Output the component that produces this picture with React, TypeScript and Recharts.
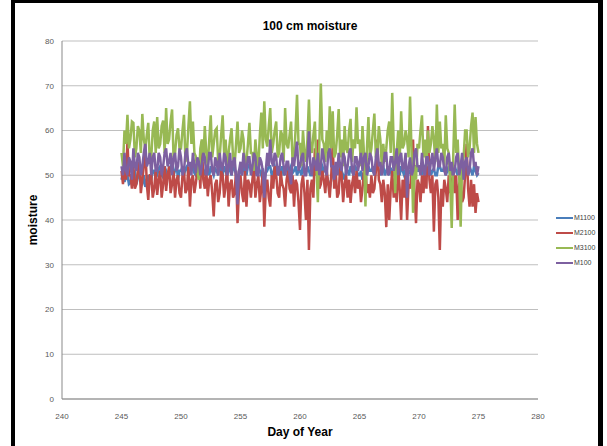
import React from "react";
import { LineChart, Line, XAxis, YAxis, CartesianGrid, Label } from "recharts";

// sampled every 3 hours, day of year 245 to 275
const days = [
  245, 245.125, 245.25, 245.375, 245.5, 245.625, 245.75, 245.875,
  246, 246.125, 246.25, 246.375, 246.5, 246.625, 246.75, 246.875,
  247, 247.125, 247.25, 247.375, 247.5, 247.625, 247.75, 247.875,
  248, 248.125, 248.25, 248.375, 248.5, 248.625, 248.75, 248.875,
  249, 249.125, 249.25, 249.375, 249.5, 249.625, 249.75, 249.875,
  250, 250.125, 250.25, 250.375, 250.5, 250.625, 250.75, 250.875,
  251, 251.125, 251.25, 251.375, 251.5, 251.625, 251.75, 251.875,
  252, 252.125, 252.25, 252.375, 252.5, 252.625, 252.75, 252.875,
  253, 253.125, 253.25, 253.375, 253.5, 253.625, 253.75, 253.875,
  254, 254.125, 254.25, 254.375, 254.5, 254.625, 254.75, 254.875,
  255, 255.125, 255.25, 255.375, 255.5, 255.625, 255.75, 255.875,
  256, 256.125, 256.25, 256.375, 256.5, 256.625, 256.75, 256.875,
  257, 257.125, 257.25, 257.375, 257.5, 257.625, 257.75, 257.875,
  258, 258.125, 258.25, 258.375, 258.5, 258.625, 258.75, 258.875,
  259, 259.125, 259.25, 259.375, 259.5, 259.625, 259.75, 259.875,
  260, 260.125, 260.25, 260.375, 260.5, 260.625, 260.75, 260.875,
  261, 261.125, 261.25, 261.375, 261.5, 261.625, 261.75, 261.875,
  262, 262.125, 262.25, 262.375, 262.5, 262.625, 262.75, 262.875,
  263, 263.125, 263.25, 263.375, 263.5, 263.625, 263.75, 263.875,
  264, 264.125, 264.25, 264.375, 264.5, 264.625, 264.75, 264.875,
  265, 265.125, 265.25, 265.375, 265.5, 265.625, 265.75, 265.875,
  266, 266.125, 266.25, 266.375, 266.5, 266.625, 266.75, 266.875,
  267, 267.125, 267.25, 267.375, 267.5, 267.625, 267.75, 267.875,
  268, 268.125, 268.25, 268.375, 268.5, 268.625, 268.75, 268.875,
  269, 269.125, 269.25, 269.375, 269.5, 269.625, 269.75, 269.875,
  270, 270.125, 270.25, 270.375, 270.5, 270.625, 270.75, 270.875,
  271, 271.125, 271.25, 271.375, 271.5, 271.625, 271.75, 271.875,
  272, 272.125, 272.25, 272.375, 272.5, 272.625, 272.75, 272.875,
  273, 273.125, 273.25, 273.375, 273.5, 273.625, 273.75, 273.875,
  274, 274.125, 274.25, 274.375, 274.5, 274.625, 274.75, 274.875,
  275,
];

const m1100 = [
  49, 50.5, 48.5, 49.5, 50, 48, 48.3, 50,
  49, 51, 48, 49.5, 50.5, 48.5, 48.2, 50,
  47.4, 49, 50, 48, 49, 51, 51, 49.5,
  50, 51.5, 52, 50, 49.5, 52, 51, 50,
  50, 52, 52.5, 50, 51, 52.5, 49, 51,
  51, 52, 50, 51.5, 52, 50, 50.5, 52,
  52, 50.5, 50, 51.5, 51, 50, 52.5, 51,
  50, 52, 51.5, 50, 52, 51, 50, 51.5,
  51, 50, 52.5, 51, 50, 52, 51, 50,
  52, 51, 50, 52, 51.5, 50, 49, 51,
  51, 50, 52, 51, 50, 52, 52.5, 51,
  50, 52, 51, 50, 52, 51, 50, 51.5,
  49, 50.5, 51, 52, 52, 50, 50.5, 52,
  51, 52, 50, 51, 52, 50, 51, 52,
  50, 51, 52, 50.5, 51, 52, 50, 51,
  51, 50, 52.5, 51, 50, 52, 51, 50,
  50, 52, 51, 50, 52, 51, 50.5, 52,
  51, 52, 50, 48.5, 47, 49, 51, 50,
  52, 51, 50.5, 52, 51, 50, 49, 51,
  51, 50, 52, 51, 50, 52, 51.5, 50,
  50, 51, 49, 50.5, 51, 50, 52, 51,
  51, 52, 50, 51, 52.5, 51, 50, 52,
  52, 50, 51, 52, 50, 51.5, 51, 50,
  50, 52, 51.5, 50, 52, 51, 50, 51.5,
  49, 50.5, 51, 50, 50, 52, 52, 51,
  51, 52, 50, 51.5, 52, 50, 51, 52,
  50, 51, 51.5, 50, 50, 52, 52, 51,
  51, 52, 50, 51, 52, 50, 50.5, 52,
  52, 51, 50, 52, 51, 50, 49.5, 51,
  51, 50, 52, 51, 50, 52, 51, 50,
  50.5,
];

const m2100 = [
  51, 48, 53, 49, 57.5, 50, 50, 47,
  52, 47, 48, 51, 53, 46, 49, 52,
  57, 48, 44.5, 50, 50, 45, 47, 51,
  45.6, 49, 51, 45, 48, 52, 46.5, 50,
  52, 46, 48, 51, 45, 49, 50, 46,
  45, 50, 51, 46, 47, 52, 43, 49,
  50, 46, 48.3, 51, 53, 47, 57.6, 49,
  47, 51, 45.3, 49, 50, 46, 40.8, 48,
  49, 44, 46, 51, 50, 45, 47.5, 52,
  43, 48, 49, 45, 46, 51, 39.3, 47,
  50, 46, 44, 51, 43, 49, 48, 45,
  49, 52, 45, 48, 50, 44, 47, 51,
  38.5, 47, 49, 45, 43, 50, 47, 52,
  50, 46, 45, 51, 48, 47, 43, 49,
  51, 47, 46, 50, 43, 49, 48, 44,
  37.8, 48, 50, 46, 40, 49, 33.3, 47,
  49, 45, 56, 50, 58, 47, 48, 51,
  49, 46, 51, 48, 45, 50, 57, 47,
  51, 45, 46, 52, 50, 44, 48, 50,
  45, 49, 43.8, 48, 50, 46, 51, 47,
  49, 44, 47, 51, 52, 46, 48, 45,
  50, 46, 47, 51, 58, 49, 48, 44,
  49, 46, 38.4, 48, 40, 47, 51, 45,
  48, 44, 52, 47, 40, 49, 45, 50,
  40, 48, 47, 51, 58, 46, 39.3, 49,
  48, 44, 50, 46, 52, 47, 61, 49,
  46, 50, 37.4, 48, 49, 45, 33.3, 47,
  43, 49, 47, 44, 50, 46, 48, 51,
  46, 50, 40, 48, 49, 44, 45, 50,
  57, 47, 43, 49, 43, 48, 41.6, 46,
  44,
];

const m3100 = [
  55, 52, 60, 57, 63.5, 56, 58, 62,
  61.7, 54, 56, 61, 60, 55, 63.7, 58,
  56, 59, 61.7, 53, 54, 60, 62, 55,
  63, 56, 57, 61, 62.2, 55, 65, 57,
  58, 62, 64.7, 54, 55, 59, 60.5, 56,
  56, 60, 63.5, 53, 55, 61, 66.5, 57,
  62, 55, 54.2, 51, 49, 56, 58, 53,
  61, 55, 52, 58, 63.4, 54, 57, 60,
  60.5, 53, 54, 59, 63.4, 55, 58, 52,
  55, 58, 60.5, 54, 52, 57, 62, 55,
  56, 60, 58, 52, 53, 57, 61.7, 55,
  55, 51, 58, 54, 52, 59, 64, 56,
  66.5, 58, 56.4, 61, 65, 55, 57, 60,
  62, 54, 55, 60, 59, 53, 65, 57,
  56, 59, 62, 53, 54, 60, 68, 57,
  57, 52, 60, 55, 53, 58, 66.9, 56,
  55, 59, 62, 52, 44, 57, 70.5, 58,
  57, 53, 60, 55, 65.4, 56, 64.3, 54,
  55, 59, 64.8, 54, 58, 52, 61, 56,
  55, 60, 62.6, 53, 58, 56, 65.2, 57,
  58, 52, 61, 55, 43, 56, 63, 54,
  56, 60, 63.8, 54, 55, 61, 58, 52,
  57, 53, 56, 60, 62, 55, 68.4, 57,
  46, 55, 60, 53, 64.3, 56, 57, 60,
  58, 54, 67.6, 55, 41.6, 52, 49, 57,
  56, 60, 63.4, 54, 58, 52, 60, 55,
  57, 61, 58, 53, 65.8, 55, 62, 56,
  57, 52, 63.4, 56, 55, 48, 38.2, 54,
  65.8, 55, 58, 50, 38.5, 53, 54, 60,
  60, 54, 56, 61, 64, 55, 63, 57,
  55,
];

const m100 = [
  52, 50, 55, 51, 50, 54, 53, 49,
  56, 52, 51, 55, 54, 50, 52, 55,
  57, 52, 53, 55, 50, 54, 55, 51,
  51, 55, 54, 50, 52, 55, 56, 52,
  53, 55, 50, 54, 55, 51, 52, 56,
  54, 50, 51, 55, 56, 52, 53, 50,
  55, 52, 50.5, 54, 53, 50, 52, 55,
  54, 50, 51, 55, 55, 51, 50, 54,
  53, 50, 55, 52, 51, 55, 54, 50,
  52, 55, 50, 53, 54, 50, 43.5, 51,
  53, 50, 55, 52, 51, 54, 54, 50,
  52, 55, 54, 50, 50, 54, 53, 51,
  45, 51, 55, 52, 58, 53, 52, 55,
  54, 50, 51, 54, 55, 52, 50, 53,
  53, 50, 48, 54, 52, 55, 57.5, 51,
  52, 54, 55, 50, 50, 54, 59.8, 52,
  50, 54, 53, 51, 55, 50, 52, 56,
  54, 51, 50, 55, 56, 52, 52, 49,
  53, 50, 55, 52, 51, 55, 54, 50,
  52, 55, 56, 51, 50, 54, 54, 51,
  53, 55, 51, 54, 55, 50, 52, 55,
  54, 51, 50, 54, 56, 52, 53, 50,
  52, 55, 55, 50, 51, 54, 54, 51,
  53, 56, 50, 54, 55, 51, 52, 55,
  45, 52, 54, 50, 51, 55, 56, 52,
  52, 50, 55, 51, 50, 54, 54, 50,
  53, 55, 51, 54, 56, 52, 52, 55,
  54, 51, 50, 54, 55, 51, 53, 50,
  51, 54, 55, 50, 52, 55, 49, 53,
  54, 50, 51, 55, 56, 52, 53, 50,
  52,
];

const xTicks = [240, 245, 250, 255, 260, 265, 270, 275, 280];
const yTicks = [0, 10, 20, 30, 40, 50, 60, 70, 80];

const SERIES = [
  { key: "m1100", name: "M1100", color: "#4a7ebb" },
  { key: "m2100", name: "M2100", color: "#be4b48" },
  { key: "m3100", name: "M3100", color: "#98b954" },
  { key: "m100", name: "M100", color: "#7d60a0" },
];

const rows = days.map((d, i) => ({ day: d, m1100: m1100[i], m2100: m2100[i], m3100: m3100[i], m100: m100[i] }));

const FONT = "'Liberation Sans', Arial, sans-serif";
const TICK = { fill: "#595959", fontSize: 8, fontFamily: FONT };

export default function App() {
  return (
    <div style={{ position: "absolute", left: 0, top: 0, width: 607, height: 446, background: "#fff", overflow: "hidden" }}>
      {/* black frame */}
      <div style={{
        position: "absolute", left: 11, top: 0, width: 583, height: 450,
        borderLeft: "4px solid #000", borderTop: "3px solid #000", borderRight: "5px solid #000",
      }} />
      <div style={{
        position: "absolute", left: 0, top: 19, width: 620, textAlign: "center",
        fontFamily: FONT, fontSize: 12, fontWeight: 700, color: "#000",
      }}>
        100 cm moisture
      </div>
      <div style={{ position: "absolute", left: 0, top: 0 }}>
        <LineChart width={607} height={446} data={rows} margin={{ top: 41, right: 69, bottom: 27, left: 22 }}>
          <CartesianGrid vertical={false} stroke="#bfbfbf" strokeWidth={1} />
          <XAxis
            dataKey="day" type="number" domain={[240, 280]} ticks={xTicks}
            tick={TICK} tickLine={false} tickSize={0} tickMargin={14}
            axisLine={{ stroke: "#898989" }} height={20} allowDataOverflow
          >
            <Label value="Day of Year" position="bottom" offset={8}
              style={{ fontFamily: FONT, fontSize: 12, fontWeight: 700, fill: "#000" }} />
          </XAxis>
          <YAxis
            domain={[0, 80]} ticks={yTicks} tick={TICK} tickLine={false} tickSize={0} tickMargin={8}
            axisLine={{ stroke: "#898989" }} width={40}
          >
            <Label value="moisture" angle={-90} position="insideLeft" offset={11}
              style={{ fontFamily: FONT, fontSize: 12, fontWeight: 700, fill: "#000", textAnchor: "middle" }} />
          </YAxis>
          {SERIES.map(s => (
            <Line
              key={s.key} type="linear" dataKey={s.key} name={s.name}
              stroke={s.color} strokeWidth={2.5} dot={false} isAnimationActive={false}
            />
          ))}
        </LineChart>
      </div>
      {/* legend */}
      <div style={{ position: "absolute", left: 556, top: 210, fontFamily: FONT, fontSize: 7, color: "#404040" }}>
        {SERIES.map(s => (
          <div key={s.key} style={{ display: "flex", alignItems: "center", height: 15 }}>
            <div style={{ width: 17, height: 2, background: s.color, marginRight: 1 }} />
            <span>{s.name}</span>
          </div>
        ))}
      </div>
    </div>
  );
}
